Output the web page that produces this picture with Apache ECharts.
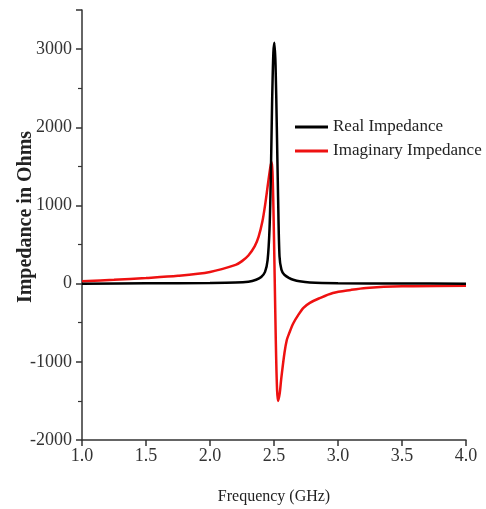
<!DOCTYPE html>
<html>
<head>
<meta charset="utf-8">
<script src="https://cdn.jsdelivr.net/npm/echarts@6/dist/echarts.min.js"></script>
<style>
  html, body { margin: 0; padding: 0; background: #fff; }
  #chart { width: 486px; height: 509px; }
</style>
</head>
<body>
<div id="chart"></div>
<script>
  // 数据
  var realFreq = [1.0, 1.5, 2.0, 2.2, 2.3, 2.36, 2.40, 2.43, 2.45, 2.465, 2.475, 2.485, 2.495, 2.503, 2.512, 2.522, 2.532, 2.543, 2.558, 2.58, 2.62, 2.65, 2.70, 2.78, 3.0, 3.5, 4.0]
  var realImp = [0, 4, 8, 13, 25, 50, 85, 150, 300, 700, 1350, 2300, 2950, 3080, 2800, 2000, 1100, 350, 180, 115, 70, 50, 30, 15, 6, 2, 0]

  var imagFreq = [1.0, 1.25, 1.5, 1.75, 2.0, 2.2, 2.25, 2.3, 2.35, 2.38, 2.41, 2.43, 2.45, 2.465, 2.475, 2.482, 2.531, 2.545, 2.556, 2.582, 2.6, 2.62, 2.65, 2.69, 2.73, 2.78, 2.85, 2.96, 3.1, 3.22, 3.5, 4.0]
  var imagImp = [30, 50, 72, 100, 150, 240, 288, 360, 480, 600, 800, 1000, 1240, 1420, 1520, 1556, -1501, -1400, -1224, -884, -720, -629, -510, -400, -310, -246, -190, -119, -80, -55, -34, -26]

  var seriesNames = ['Real Impedance', 'Imaginary Impedance']

  function pairs(xs, ys) {
    return xs.map(function(x, i) { return [x, ys[i]] })
  }

  var serif = 'Liberation Serif'
  var chart = echarts.init(document.getElementById('chart'))
  var options = {
    animation: false,
    grid: {
      left: 82,
      right: 20,
      top: 10,
      bottom: 69,
      containLabel: false,
      outerBoundsMode: 'none'
    },
    legend: {
      orient: 'vertical',
      left: 295,
      top: 117,
      padding: 0,
      icon: 'rect',
      itemWidth: 33,
      itemHeight: 3,
      itemGap: 4,
      data: seriesNames,
      textStyle: {
        fontFamily: serif,
        fontSize: 17,
        lineHeight: 20,
        color: '#222'
      }
    },
    xAxis: {
      type: 'value',
      min: 1,
      max: 4,
      interval: 0.5,
      name: 'Frequency (GHz)',
      nameLocation: 'middle',
      nameGap: 49,
      nameTextStyle: { fontFamily: serif, fontSize: 16, color: '#222' },
      axisLine: { onZero: false, lineStyle: { color: '#333', width: 1.5 } },
      axisTick: { length: 6, lineStyle: { color: '#333', width: 1.5 } },
      axisLabel: {
        margin: 7,
        fontFamily: serif,
        fontSize: 18,
        color: '#333',
        formatter: function(v) { return v.toFixed(1) }
      },
      splitLine: { show: false }
    },
    yAxis: {
      type: 'value',
      min: -2000,
      max: 3500,
      interval: 1000,
      name: 'Impedance in Ohms',
      nameLocation: 'middle',
      nameGap: 46,
      nameMoveOverlap: false,
      nameTextStyle: { fontFamily: serif, fontSize: 20, fontWeight: 'bold', color: '#222', padding: [0, 0, 0, 16] },
      axisLine: { show: true, onZero: false, lineStyle: { color: '#333', width: 1.5 } },
      axisTick: { length: 6, lineStyle: { color: '#333', width: 1.5 } },
      minorTick: { show: true, splitNumber: 2, length: 4, lineStyle: { color: '#333', width: 1.2 } },
      axisLabel: {
        margin: 10,
        fontFamily: serif,
        fontSize: 18,
        color: '#333',
        formatter: function(v) { return v === 3500 ? '' : String(v) }
      },
      splitLine: { show: false }
    },
    series: [
      {
        name: seriesNames[0],
        type: 'line',
        data: pairs(realFreq, realImp),
        showSymbol: false,
        smooth: 0.3,
        z: 3,
        itemStyle: { color: '#000' },
        lineStyle: { color: '#000', width: 2.5 }
      },
      {
        name: seriesNames[1],
        type: 'line',
        data: pairs(imagFreq, imagImp),
        showSymbol: false,
        smooth: 0.3,
        z: 2,
        itemStyle: { color: '#ee1111' },
        lineStyle: { color: '#ee1111', width: 2.5 }
      }
    ]
  }
  chart.setOption(options)
</script>
</body>
</html>
